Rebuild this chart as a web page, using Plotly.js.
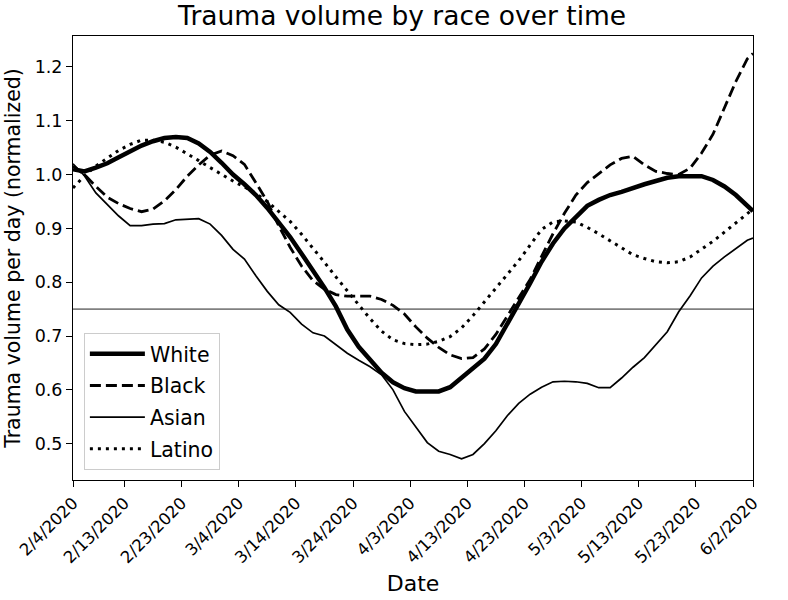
<!DOCTYPE html>
<html>
<head>
<meta charset="utf-8">
<script src="https://cdn.plot.ly/plotly-3.0.1.min.js"></script>
<style>html,body{margin:0;padding:0;background:#fff;}#chart{width:788px;height:600px;}</style>
</head>
<body>
<div id="chart"></div>
<script>
// ---- data ----
const dates = [
  '2020-02-04','2020-02-06','2020-02-08','2020-02-10','2020-02-12','2020-02-14','2020-02-16','2020-02-18','2020-02-20','2020-02-22',
  '2020-02-24','2020-02-26','2020-02-28','2020-03-01','2020-03-03','2020-03-05','2020-03-07','2020-03-09','2020-03-11','2020-03-13',
  '2020-03-15','2020-03-17','2020-03-19','2020-03-21','2020-03-23','2020-03-25','2020-03-27','2020-03-29','2020-03-31','2020-04-02',
  '2020-04-04','2020-04-06','2020-04-08','2020-04-10','2020-04-12','2020-04-14','2020-04-16','2020-04-18','2020-04-20','2020-04-22',
  '2020-04-24','2020-04-26','2020-04-28','2020-04-30','2020-05-02','2020-05-04','2020-05-06','2020-05-08','2020-05-10','2020-05-12',
  '2020-05-14','2020-05-16','2020-05-18','2020-05-20','2020-05-22','2020-05-24','2020-05-26','2020-05-28','2020-05-30','2020-06-01',
  '2020-06-02'
];

const white = [
  1.010,1.006,1.013,1.021,1.032,1.043,1.054,1.062,1.068,1.070,
  1.068,1.058,1.042,1.022,1.000,0.982,0.962,0.938,0.912,0.884,
  0.853,0.822,0.790,0.755,0.712,0.680,0.655,0.632,0.614,0.603,
  0.597,0.596,0.597,0.605,0.622,0.640,0.658,0.685,0.722,0.762,
  0.798,0.838,0.872,0.900,0.922,0.942,0.953,0.962,0.968,0.976,
  0.982,0.988,0.994,0.997,0.998,0.997,0.990,0.978,0.962,0.940,
  0.932
];

const black = [
  1.016,1.000,0.978,0.958,0.946,0.937,0.931,0.936,0.951,0.972,
  0.997,1.018,1.036,1.044,1.035,1.019,0.985,0.950,0.905,0.865,
  0.830,0.803,0.787,0.777,0.774,0.774,0.774,0.768,0.757,0.741,
  0.717,0.696,0.679,0.665,0.658,0.660,0.676,0.703,0.737,0.772,
  0.805,0.848,0.890,0.928,0.962,0.985,1.002,1.018,1.030,1.034,
  1.018,1.006,1.002,1.000,1.012,1.040,1.075,1.125,1.173,1.215,
  1.225
];

const asian = [
  1.020,0.998,0.966,0.944,0.923,0.905,0.905,0.908,0.909,0.916,
  0.917,0.918,0.908,0.887,0.861,0.843,0.812,0.783,0.758,0.744,
  0.722,0.706,0.700,0.684,0.668,0.655,0.643,0.628,0.600,0.560,
  0.530,0.502,0.486,0.480,0.472,0.480,0.500,0.524,0.552,0.575,
  0.592,0.605,0.615,0.616,0.615,0.612,0.604,0.604,0.622,0.642,
  0.660,0.683,0.708,0.745,0.775,0.808,0.830,0.847,0.862,0.878,
  0.882
];

const latino = [
  0.975,0.998,1.016,1.031,1.045,1.056,1.064,1.064,1.060,1.051,
  1.039,1.026,1.013,1.000,0.988,0.977,0.965,0.950,0.932,0.913,
  0.889,0.864,0.837,0.810,0.784,0.757,0.732,0.709,0.693,0.686,
  0.684,0.685,0.690,0.699,0.715,0.738,0.764,0.788,0.815,0.840,
  0.869,0.898,0.912,0.914,0.912,0.902,0.890,0.877,0.863,0.851,
  0.844,0.838,0.836,0.838,0.847,0.861,0.876,0.893,0.910,0.928,
  0.936
];

const seriesNames = ['White','Black','Asian','Latino'];
const threshold = 0.75;

const tickDates = ['2020-02-04','2020-02-13','2020-02-23','2020-03-04','2020-03-14','2020-03-24','2020-04-03',
                   '2020-04-13','2020-04-23','2020-05-03','2020-05-13','2020-05-23','2020-06-02'];
const tickLabels = ['2/4/2020','2/13/2020','2/23/2020','3/4/2020','3/14/2020','3/24/2020','4/3/2020',
                    '4/13/2020','4/23/2020','5/3/2020','5/13/2020','5/23/2020','6/2/2020'];
const yTicks = [0.5,0.6,0.7,0.8,0.9,1.0,1.1,1.2];

// ---- chart ----
const FONT = 'DejaVu Sans, sans-serif';
const styles = [
  {width: 4.5, dash: 'solid'},
  {width: 2.8, dash: '11px,5px'},
  {width: 1.7, dash: 'solid'},
  {width: 3.0, dash: '3px,5px'}
];
const values = [white, black, asian, latino];

const traces = values.map((v, i) => ({
  type: 'scatter', mode: 'lines', x: dates, y: v, name: seriesNames[i],
  legendgroup: seriesNames[i],
  line: {color: '#000000', width: styles[i].width, dash: styles[i].dash}
}));

const layout = {
  width: 788, height: 600,
  margin: {l: 73, r: 35, t: 36, b: 120, pad: 0},
  paper_bgcolor: '#ffffff', plot_bgcolor: '#ffffff',
  font: {family: FONT, color: '#000000', size: 17},
  title: {text: 'Trauma volume by race over time', font: {family: FONT, size: 26.5, color: '#000'},
          x: 0.484, xref: 'paper', xanchor: 'center', y: 0.973, yref: 'container', yanchor: 'middle'},
  xaxis: {
    type: 'date', range: ['2020-02-04', '2020-06-02'],
    tickmode: 'array', tickvals: tickDates, ticktext: tickLabels, tickangle: -45,
    ticks: 'outside', ticklen: 6, tickwidth: 1, tickcolor: '#000',
    showline: true, mirror: true, linecolor: '#000', linewidth: 1,
    showgrid: false, zeroline: false,
    tickfont: {family: FONT, size: 16.5, color: '#000'},
    title: {text: 'Date', font: {family: FONT, size: 22, color: '#000'}, standoff: 9}
  },
  yaxis: {
    range: [0.4325, 1.2575],
    tickmode: 'array', tickvals: yTicks, tickformat: '.1f',
    ticks: 'outside', ticklen: 6, tickwidth: 1, tickcolor: '#000',
    showline: true, mirror: true, linecolor: '#000', linewidth: 1,
    showgrid: false, zeroline: false,
    tickfont: {family: FONT, size: 17.5, color: '#000'},
    title: {text: 'Trauma volume per day (normalized)', font: {family: FONT, size: 20.5, color: '#000'}, standoff: 8}
  },
  shapes: [{
    type: 'line', xref: 'paper', x0: 0, x1: 1, yref: 'y', y0: threshold, y1: threshold,
    line: {color: '#808080', width: 1.8}, layer: 'below'
  }],
  showlegend: true,
  legend: {
    x: 0.016, y: 0.0225, xanchor: 'left', yanchor: 'bottom',
    bgcolor: 'rgba(255,255,255,0.8)', bordercolor: '#cccccc', borderwidth: 1,
    font: {family: FONT, size: 20.5, color: '#000'},
    traceorder: 'grouped', tracegroupgap: 2, itemwidth: 55
  }
};

Plotly.newPlot('chart', traces, layout, {displayModeBar: false, staticPlot: true});
</script>
</body>
</html>
